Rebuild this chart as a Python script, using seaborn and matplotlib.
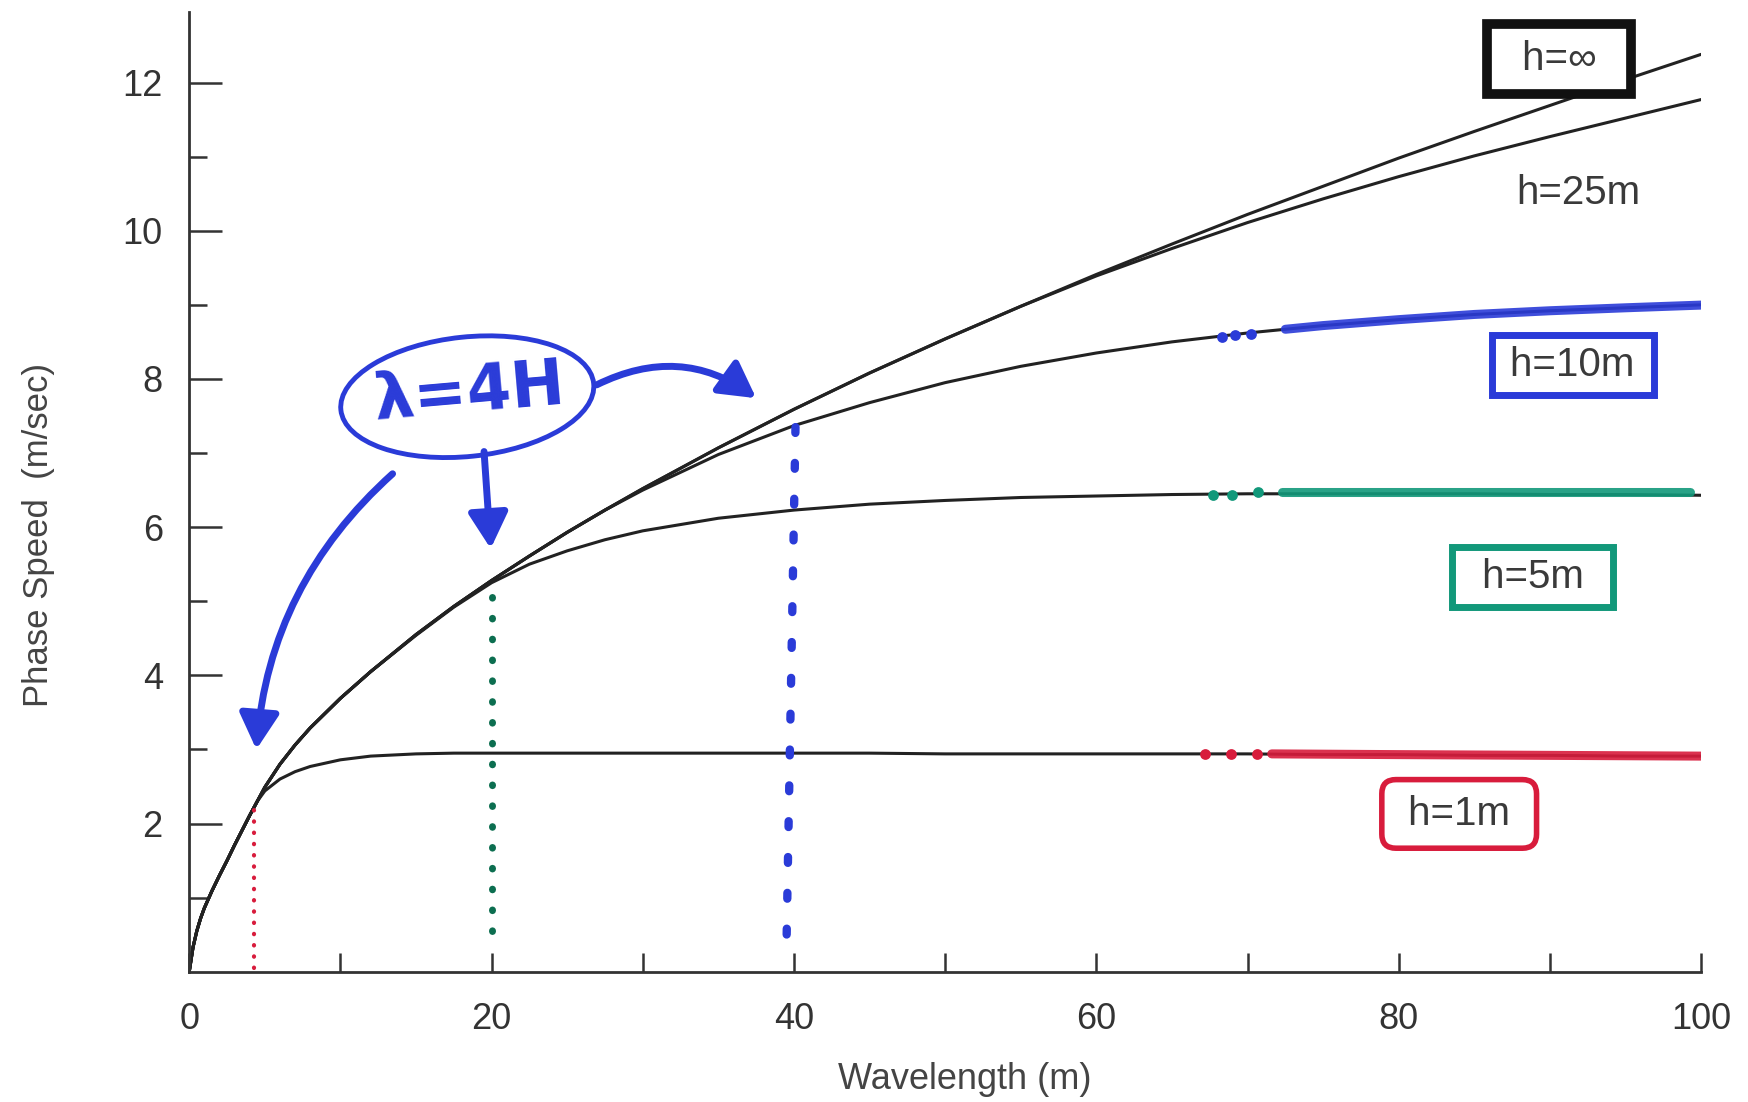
import numpy as np
import pandas as pd
import matplotlib
matplotlib.use('Agg')
import matplotlib.pyplot as plt
import matplotlib.patches as mpatches
import matplotlib.transforms as mtransforms
import seaborn as sns

sns.set_style('ticks')
plt.rcParams['font.family'] = ['Liberation Sans', 'DejaVu Sans']

# values (wavelength in m, phase speed in m/s)
wavelength = [0, 0.25, 0.5, 0.75, 1, 1.5, 2, 2.5, 3, 3.5, 4, 4.5, 5, 6, 7, 8, 10, 12,
              15, 17.5, 20, 22.5, 25, 27.5, 30, 35, 40, 45, 50, 55, 60, 65, 70, 75,
              80, 85, 90, 95, 100]
speed_inf = [0, 0.33, 0.55, 0.72, 0.86, 1.09, 1.3, 1.5, 1.71, 1.91, 2.11, 2.3, 2.49,
             2.8, 3.06, 3.29, 3.69, 4.05, 4.55, 4.93, 5.28, 5.61, 5.93, 6.23, 6.52,
             7.07, 7.59, 8.08, 8.54, 8.98, 9.41, 9.82, 10.22, 10.6, 10.98, 11.34,
             11.69, 12.04, 12.38]
speed_25 = [0, 0.33, 0.55, 0.72, 0.86, 1.09, 1.3, 1.5, 1.71, 1.91, 2.11, 2.3, 2.49,
            2.8, 3.06, 3.29, 3.69, 4.05, 4.55, 4.93, 5.28, 5.61, 5.93, 6.23, 6.52,
            7.07, 7.59, 8.08, 8.54, 8.98, 9.39, 9.76, 10.11, 10.43, 10.73, 11.01,
            11.27, 11.52, 11.77]
speed_10 = [0, 0.33, 0.55, 0.72, 0.86, 1.09, 1.3, 1.5, 1.71, 1.91, 2.11, 2.3, 2.49,
            2.8, 3.06, 3.29, 3.69, 4.05, 4.55, 4.93, 5.28, 5.61, 5.93, 6.23, 6.5,
            6.98, 7.37, 7.68, 7.95, 8.17, 8.35, 8.5, 8.62, 8.72, 8.8, 8.87,
            8.92, 8.96, 9.0]
speed_5 = [0, 0.33, 0.55, 0.72, 0.86, 1.09, 1.3, 1.5, 1.71, 1.91, 2.11, 2.3, 2.49,
           2.8, 3.06, 3.29, 3.69, 4.05, 4.54, 4.92, 5.25, 5.5, 5.68, 5.83, 5.95,
           6.12, 6.23, 6.31, 6.36, 6.4, 6.42, 6.44, 6.45, 6.45, 6.45, 6.45,
           6.44, 6.44, 6.43]
speed_1 = [0, 0.33, 0.55, 0.72, 0.86, 1.09, 1.3, 1.5, 1.71, 1.91, 2.11, 2.3, 2.44,
           2.6, 2.7, 2.77, 2.86, 2.91, 2.94, 2.95, 2.95, 2.95, 2.95, 2.95, 2.95,
           2.95, 2.95, 2.95, 2.94, 2.94, 2.94, 2.94, 2.94, 2.93, 2.93, 2.92,
           2.92, 2.91, 2.91]
depths = ['h=∞', 'h=25m', 'h=10m', 'h=5m', 'h=1m']

# hand-drawn marker highlights
blue_mark_x = [72.5, 75, 80, 85, 90, 95, 100.5]
blue_mark_y = [8.67, 8.72, 8.8, 8.87, 8.92, 8.96, 9.0]
blue_dot_x = [68.3, 69.2, 70.2]
blue_dot_y = [8.57, 8.59, 8.61]
green_mark_x = [72.3, 80, 90, 99.3]
green_mark_y = [6.47, 6.47, 6.47, 6.47]
green_dot_x = [67.7, 69.0, 70.7]
green_dot_y = [6.44, 6.44, 6.47]
red_mark_x = [71.6, 80, 90, 100]
red_mark_y = [2.94, 2.93, 2.92, 2.91]
red_dot_x = [67.2, 68.9, 70.6]
red_dot_y = [2.94, 2.94, 2.94]

# dotted lines at lambda = 4H
red_line_x, red_line_y = [4.3, 4.3], [0.05, 2.3]
green_line_x, green_line_y = [20.0, 20.0], [0.55, 5.2]
blue_line_x, blue_line_y = [40.1, 39.5], [7.35, 0.3]

blue = '#2a3bd8'
green = '#12987a'
dkgreen = '#0c6e50'
red = '#d81c3c'
ink = '#222222'
txt = '#3a3a3a'

curves = pd.DataFrame({
    'wavelength': wavelength * 5,
    'speed': speed_inf + speed_25 + speed_10 + speed_5 + speed_1,
    'depth': np.repeat(depths, len(wavelength)),
})

fig = plt.figure(figsize=(17.49, 11.02), dpi=100)
ax = fig.add_axes([0.1082, 0.1182, 0.8644, 0.8708])

sns.lineplot(data=curves, x='wavelength', y='speed', units='depth', estimator=None,
             color=ink, lw=2.2, ax=ax)

# colored highlights on the curves
for mx, my, dx, dy, c in [(blue_mark_x, blue_mark_y, blue_dot_x, blue_dot_y, blue),
                          (green_mark_x, green_mark_y, green_dot_x, green_dot_y, green),
                          (red_mark_x, red_mark_y, red_dot_x, red_dot_y, red)]:
    ax.plot(mx, my, color=c, lw=6.5, solid_capstyle='round', alpha=0.9, zorder=3)
    ax.scatter(dx, dy, s=60, color=c, zorder=3, linewidths=0)

ax.plot(red_line_x, red_line_y, color=red, lw=3, linestyle=(0, (0.1, 2.6)),
        dash_capstyle='round', zorder=2)
ax.plot(green_line_x, green_line_y, color=dkgreen, lw=5, linestyle=(0, (0.1, 2.9)),
        dash_capstyle='round', zorder=2)
ax.plot(blue_line_x, blue_line_y, color=blue, lw=6, linestyle=(0, (0.7, 3.6)),
        dash_capstyle='round', zorder=2)

# axes styling
ax.set_xlim(0, 100)
ax.set_ylim(0, 12.95)
ax.set_xticks(range(0, 101, 20))
ax.set_xticks(range(10, 100, 20), minor=True)
ax.set_yticks(range(2, 13, 2))
ax.set_yticks(range(1, 12, 2), minor=True)
ax.tick_params(axis='x', which='both', direction='in', length=14, width=1.8,
               pad=22, labelsize=26, colors='#333333')
ax.tick_params(axis='y', which='major', direction='in', length=24, width=1.8,
               pad=19, labelsize=26, colors='#333333')
ax.tick_params(axis='y', which='minor', direction='in', length=13, width=1.8,
               colors='#333333')
sns.despine(ax=ax)
for s in ['left', 'bottom']:
    ax.spines[s].set_linewidth(2)
    ax.spines[s].set_color('#333333')

ax.set_xlabel('Wavelength (m)', fontsize=26, color='#444444')
ax.xaxis.set_label_coords(0.513, -0.094)
ax.set_ylabel('Phase Speed  (m/sec)', fontsize=25, color='#444444')
ax.yaxis.set_label_coords(-0.0888, 0.455)

# depth labels with hand-drawn boxes
sp = ' \u2009'
ax.text(90.6, 12.32, sp + 'h=∞' + sp[::-1], fontsize=29, color=txt, ha='center',
        va='center', bbox=dict(boxstyle='square,pad=0.39', fc='white', ec='#111111', lw=7),
        zorder=4, clip_on=False)
ax.text(91.85, 10.51, 'h=25m', fontsize=29, color=txt, ha='center', va='center')
ax.text(91.5, 8.19, '\u2009h=10m\u2009', fontsize=29, color=txt, ha='center', va='center',
        bbox=dict(boxstyle='square,pad=0.27', fc='none', ec=blue, lw=5))
ax.text(88.85, 5.33, sp + 'h=5m' + sp[::-1], fontsize=29, color=txt, ha='center',
        va='center', bbox=dict(boxstyle='square,pad=0.27', fc='none', ec=green, lw=5))
ax.text(84.0, 2.13, ' h=1m ', fontsize=29, color=txt, ha='center', va='center',
        bbox=dict(boxstyle='round,pad=0.38,rounding_size=0.35', fc='none', ec=red, lw=4))

# lambda = 4H bubble and arrows
bubble_trans = mtransforms.Affine2D().scale(fig.dpi / 72) + \
    mtransforms.ScaledTranslation(18.39, 7.76, ax.transData)
ax.add_patch(mpatches.Ellipse((0, 0), 183, 86, angle=6, fc='none', ec=blue, lw=3.5,
                              transform=bubble_trans))
ax.text(18.5, 7.8, 'λ=4H', fontsize=46, fontweight='bold',
        color=blue, ha='center', va='center', rotation=5, family='DejaVu Sans')

arrow = '-|>,head_length=0.9,head_width=0.5'
ax.annotate('', xy=(4.44, 3.0), xytext=(13.45, 6.72),
            arrowprops=dict(arrowstyle=arrow, color=blue, lw=5, mutation_scale=24,
                            connectionstyle='arc3,rad=0.2', shrinkA=0, shrinkB=0))
ax.annotate('', xy=(19.94, 5.71), xytext=(19.5, 7.02),
            arrowprops=dict(arrowstyle=arrow, color=blue, lw=5, mutation_scale=24,
                            shrinkA=0, shrinkB=0))
ax.annotate('', xy=(37.5, 7.74), xytext=(26.95, 7.92),
            arrowprops=dict(arrowstyle=arrow, color=blue, lw=5, mutation_scale=24,
                            connectionstyle='arc3,rad=-0.3', shrinkA=0, shrinkB=0))

fig.savefig('out.png', dpi=100)
